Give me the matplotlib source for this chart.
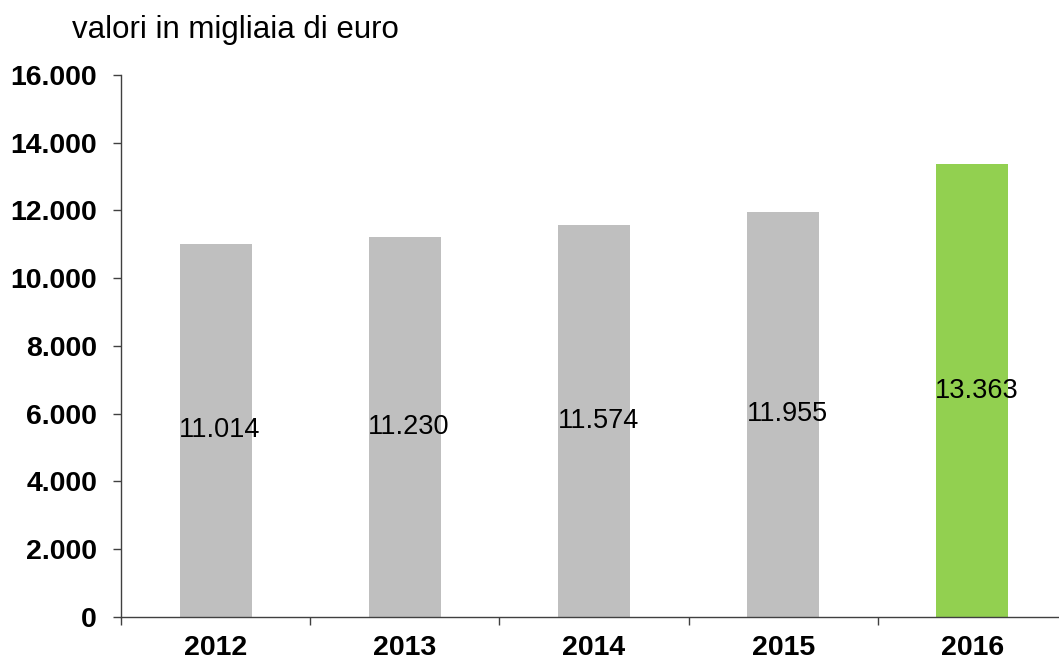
import matplotlib.pyplot as plt
from matplotlib.ticker import FuncFormatter

plt.rcParams['font.family'] = ['Liberation Sans', 'DejaVu Sans']

years = ["2012", "2013", "2014", "2015", "2016"]
values = [11014, 11230, 11574, 11955, 13363]
value_labels = ["11.014", "11.230", "11.574", "11.955", "13.363"]
bar_colors = ["#BFBFBF", "#BFBFBF", "#BFBFBF", "#BFBFBF", "#92D050"]

fig = plt.figure(figsize=(10.59, 6.63), dpi=100)
ax = fig.add_axes([0.1143, 0.0694, 0.8933, 0.8175])

x = range(len(years))
ax.bar(x, values, width=0.38, color=bar_colors, edgecolor="none")

for i in x:
    ax.annotate(value_labels[i], (i, values[i] / 2), xytext=(3, 0),
                textcoords="offset points", ha="center", va="center",
                fontsize=19.5, color="black")

ax.set_xlim(-0.5, len(years) - 0.5)
ax.set_ylim(0, 16000)
ax.set_yticks(range(0, 16001, 2000))
ax.yaxis.set_major_formatter(FuncFormatter(lambda v, p: f"{int(v):,}".replace(",", ".")))

# ticks on the x axis sit between the categories
ax.set_xticks([i - 0.5 for i in x])
ax.set_xticklabels([])
ax.set_xticks(list(x), minor=True)
ax.set_xticklabels(years, minor=True)
ax.tick_params(axis="x", which="minor", length=0, pad=13)
ax.tick_params(axis="x", which="major", length=5.8, width=1, color="#404040", direction="out")
ax.tick_params(axis="y", length=5.8, width=1, color="#404040", direction="out", pad=11.5)

for lab in ax.get_xticklabels(minor=True) + ax.get_yticklabels():
    lab.set_fontsize(20.5)
    lab.set_fontweight("bold")

for s in ["top", "right"]:
    ax.spines[s].set_visible(False)
for s in ["left", "bottom"]:
    ax.spines[s].set_color("#404040")
    ax.spines[s].set_linewidth(1)

fig.text(72 / 1059, 1 - 38 / 663, "valori in migliaia di euro", fontsize=22.5,
         ha="left", va="baseline")

fig.savefig("out.png", dpi=100)
